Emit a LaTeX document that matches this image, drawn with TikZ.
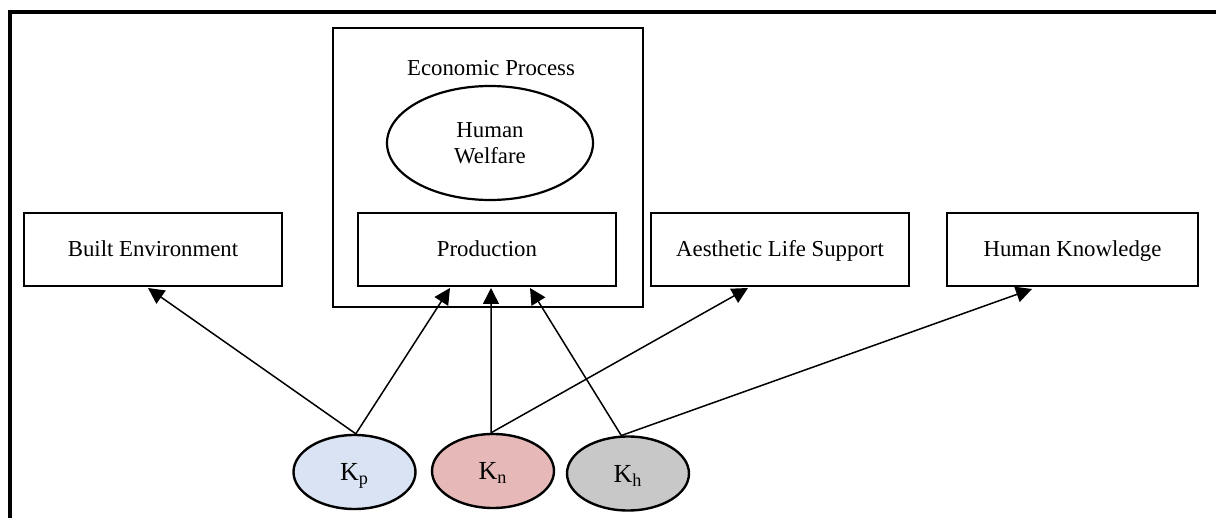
\documentclass[tikz,border=0pt]{standalone}
\usepackage{fontspec}
\setmainfont{Liberation Serif}
\usetikzlibrary{arrows.meta,shapes.geometric}
\definecolor{kpblue}{HTML}{DAE3F3}
\definecolor{knred}{HTML}{E6B8B7}
\definecolor{khgray}{HTML}{C8C8C8}
\begin{document}
\begin{tikzpicture}[x=0.5pt,y=-0.5pt,
  every node/.style={font=\fontsize{11.4}{13}\selectfont},
  boxnode/.style={draw,line width=1.1pt,rectangle,minimum width=129pt,minimum height=36.5pt,inner sep=0pt,text height=10pt,text depth=2.6pt},
  capnode/.style={draw,line width=1.2pt,ellipse,minimum width=61pt,minimum height=37pt,inner sep=0pt,font=\fontsize{13}{15}\selectfont,text height=10.5pt,text depth=2pt},
  arr/.style={line width=0.75pt,-{Triangle[length=8pt,width=8pt]}}]
\useasboundingbox (0,0) rectangle (1216,518);
% outer frame (cut by page edge)
\draw[line width=1.9pt] (10,520) -- (10,12) -- (1218,12);
% economic process frame
\node[draw,line width=1.1pt,rectangle,minimum width=155pt,minimum height=139.5pt,inner sep=0pt] (eco) at (488,167.5) {};
\node (ecolabel) at (491,68) {Economic Process};
\node[draw,line width=1.1pt,ellipse,minimum width=103pt,minimum height=57pt,inner sep=0pt,align=center] (hw) at (490,143) {Human\\Welfare};
\node[boxnode] (prod) at (487,249.5) {Production};
\node[boxnode] (be) at (153,249.5) {Built Environment};
\node[boxnode] (als) at (780,249.5) {Aesthetic Life Support};
\node[boxnode,minimum width=125.5pt] (hk) at (1072.5,249.5) {Human Knowledge};
% capital ellipses
\node[capnode,fill=kpblue] (kp) at (354.5,472) {K\textsubscript{p}};
\node[capnode,fill=knred] (kn) at (493,471) {K\textsubscript{n}};
\node[capnode,fill=khgray] (kh) at (628,473.5) {K\textsubscript{h}};
% arrow targets
\coordinate (tbe) at (148,288);
\coordinate (tp1) at (450,288);
\coordinate (tp2) at (491,288);
\coordinate (tp3) at (530,288);
\coordinate (tals) at (748,288);
\coordinate (thk) at (1032,289);
% connectors
\draw[arr] (kp.88) -- (tbe);
\draw[arr] (kp.88) -- (tp1);
\draw[arr] (kn.93) -- (tp2);
\draw[arr] (kn.93) -- (tals);
\draw[arr] (kh.100) -- (tp3);
\draw[arr] (kh.100) -- (thk);
\end{tikzpicture}
\end{document}
